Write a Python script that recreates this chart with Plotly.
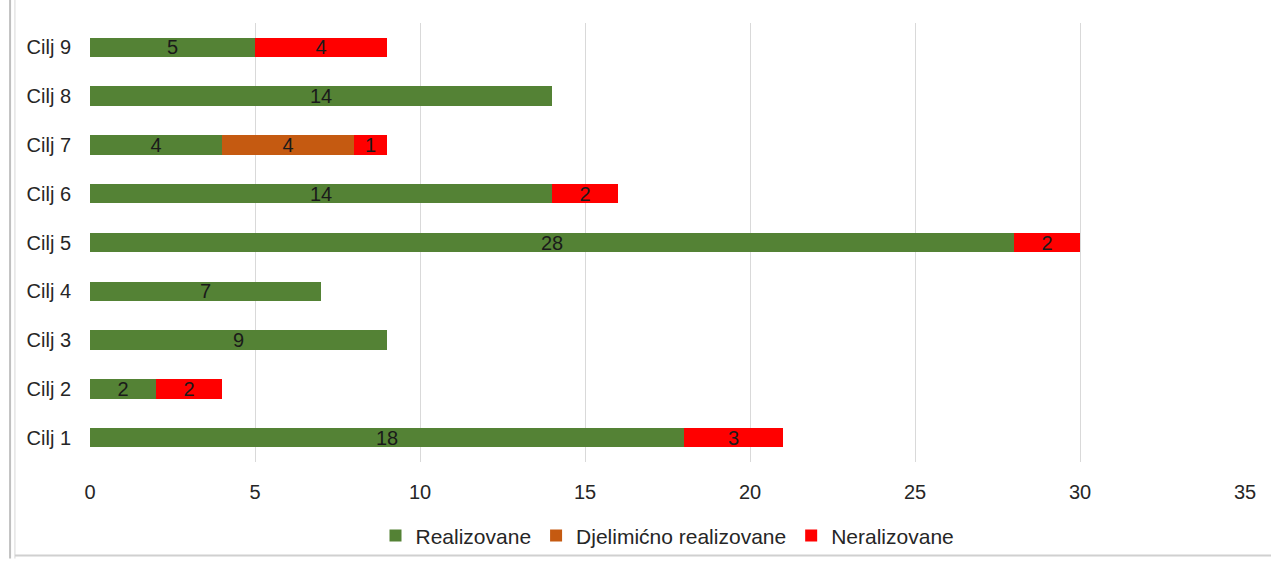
import plotly.graph_objects as go

categories = ["Cilj 1", "Cilj 2", "Cilj 3", "Cilj 4", "Cilj 5", "Cilj 6", "Cilj 7", "Cilj 8", "Cilj 9"]
realizovane = [18, 2, 9, 7, 28, 14, 4, 14, 5]
djelimicno = [None, None, None, None, None, None, 4, None, None]
neralizovane = [3, 2, None, None, 2, 2, 1, None, 4]
x_ticks = [0, 5, 10, 15, 20, 25, 30, 35]

series = [
    ("Realizovane", realizovane, "#548235"),
    ("Djelimićno realizovane", djelimicno, "#C55A11"),
    ("Neralizovane", neralizovane, "#FF0000"),
]

FONT = "Liberation Sans, Arial, sans-serif"

fig = go.Figure()
for name, vals, color in series:
    fig.add_trace(go.Bar(
        y=categories, x=vals, name=name, orientation="h",
        marker=dict(color=color, line=dict(width=0)),
        text=[("" if v is None else str(v)) for v in vals],
        textposition="inside", insidetextanchor="middle", textangle=0,
        constraintext="none",
        textfont=dict(color="#1a1a1a", size=20, family=FONT),
        width=0.4,
    ))

fig.update_layout(
    barmode="stack",
    width=1271, height=568,
    paper_bgcolor="white", plot_bgcolor="white",
    margin=dict(l=90, r=26, t=23, b=98),
    font=dict(family=FONT, size=20, color="#262626"),
    showlegend=True,
    legend=dict(orientation="h", x=0.5, xanchor="center", y=-0.168, yanchor="middle",
                font=dict(size=21, color="#262626"), traceorder="normal",
                itemwidth=30, bgcolor="rgba(0,0,0,0)"),
    uniformtext=dict(mode="show", minsize=20),
)
fig.update_xaxes(range=[0, 35], tickvals=x_ticks, showgrid=True, gridcolor="#d9d9d9",
                 gridwidth=1, zeroline=False, showline=False, ticks="outside", ticklen=12,
                 tickcolor="rgba(0,0,0,0)",
                 tickfont=dict(size=20, color="#262626"), automargin=False)
fig.update_yaxes(categoryorder="array", categoryarray=categories, showgrid=False,
                 zeroline=False, showline=False, ticks="outside", ticklen=14,
                 tickcolor="rgba(0,0,0,0)", tickfont=dict(size=20, color="#262626"),
                 automargin=False)

# frame edges visible in the reference
fig.add_shape(type="line", xref="paper", yref="paper", x0=-0.0692, x1=-0.0692, y0=-0.22, y1=1.06,
              line=dict(color="#c0c0c0", width=2))
fig.add_shape(type="line", xref="paper", yref="paper", x0=-0.065, x1=-0.065, y0=-0.22, y1=1.06,
              line=dict(color="#d8d8d8", width=1))
fig.add_shape(type="line", xref="paper", yref="paper", x0=-0.065, x1=1.03, y0=-0.213, y1=-0.213,
              line=dict(color="#d0d0d0", width=2))

fig.write_html("out.html", config={"displayModeBar": False},
               post_script="document.body.style.margin='0';document.body.style.overflow='hidden';")
